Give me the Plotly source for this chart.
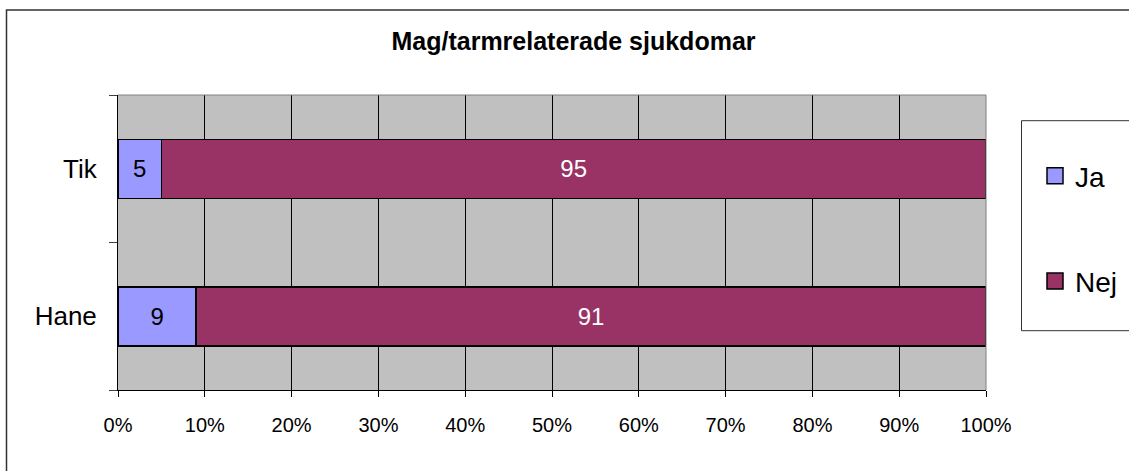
import plotly.graph_objects as go

categories = ["Hane", "Tik"]
ja_values = [9, 5]
nej_values = [91, 95]
series_names = ["Ja", "Nej"]
x_ticks = list(range(0, 101, 10))
x_tick_labels = [f"{v}%" for v in x_ticks]

JA_COLOR = "#9999FF"
NEJ_COLOR = "#993366"
FONT = "Arial, 'Liberation Sans', sans-serif"

W, H = 1129, 471
L, R, T, B = 118, 986, 95, 390

def px_x(p):
    return (p - L) / (R - L)

def px_y(p):
    return (B - p) / (B - T)

fig = go.Figure()
fig.add_trace(go.Bar(
    y=categories, x=ja_values, name=series_names[0], orientation="h",
    marker=dict(color=JA_COLOR, line=dict(color="black", width=1.5)),
    text=[str(v) for v in ja_values], textposition="inside",
    insidetextanchor="middle", textangle=0,
    textfont=dict(color="black", size=24, family=FONT),
    width=0.4, showlegend=False,
))
fig.add_trace(go.Bar(
    y=categories, x=nej_values, name=series_names[1], orientation="h",
    marker=dict(color=NEJ_COLOR, line=dict(color="black", width=1.5)),
    text=[str(v) for v in nej_values], textposition="inside",
    insidetextanchor="middle", textangle=0,
    textfont=dict(color="white", size=24, family=FONT),
    width=0.4, showlegend=False,
))
# legend entries
for name, col in zip(series_names, [JA_COLOR, NEJ_COLOR]):
    fig.add_trace(go.Scatter(
        x=[None], y=[None], mode="markers", name=name, legendgroup=name,
        marker=dict(symbol="square", size=16, color=col,
                    line=dict(color="black", width=1.5)),
        showlegend=True,
    ))

shapes = [
    # outer chart border
    dict(type="rect", xref="paper", yref="paper",
         x0=px_x(6.5), x1=px_x(1140), y0=px_y(480), y1=px_y(10),
         line=dict(color="#333333", width=1.5)),
    # plot area top and right border
    dict(type="line", xref="paper", yref="paper",
         x0=0, x1=1, y0=1, y1=1, line=dict(color="#808080", width=1)),
    dict(type="line", xref="paper", yref="paper",
         x0=1, x1=1, y0=0, y1=1, line=dict(color="#808080", width=1)),
    # legend box
    dict(type="rect", xref="paper", yref="paper",
         x0=px_x(1021.5), x1=px_x(1140), y0=px_y(330.7), y1=px_y(120.7),
         line=dict(color="#333333", width=1), fillcolor="white", layer="below"),
]

fig.update_layout(
    width=W, height=H,
    margin=dict(l=L, r=W - R, t=T, b=H - B, pad=0, autoexpand=False),
    paper_bgcolor="white",
    plot_bgcolor="#C0C0C0",
    barmode="stack",
    bargap=0.6,
    font=dict(family=FONT, size=20, color="black"),
    title=dict(text="<b>Mag/tarmrelaterade sjukdomar</b>",
               x=573.5 / W, xanchor="center", xref="container",
               y=1 - 41 / H, yanchor="middle", yref="container",
               font=dict(size=25, family=FONT, color="black")),
    xaxis=dict(range=[0, 100], tickvals=x_ticks, ticktext=x_tick_labels,
               showgrid=True, gridcolor="black", gridwidth=1,
               showline=True, linecolor="black", linewidth=1,
               ticks="outside", ticklen=6, tickcolor="black",
               tickfont=dict(size=20), ticklabelstandoff=11,
               zeroline=False, fixedrange=True, automargin=False),
    yaxis=dict(categoryorder="array", categoryarray=categories,
               showgrid=False, showline=True, linecolor="black", linewidth=1,
               ticks="outside", ticklen=8, tickcolor="#404040",
               tickson="boundaries", tickfont=dict(size=26),
               ticklabelstandoff=15, fixedrange=True, automargin=False),
    legend=dict(x=px_x(1035), xanchor="left", y=px_y(151), yanchor="top",
                bgcolor="rgba(0,0,0,0)", borderwidth=0,
                font=dict(size=28, family=FONT),
                traceorder="grouped", tracegroupgap=66),
    shapes=shapes,
    showlegend=True,
)

fig.write_html("out.html", config={"displayModeBar": False},
               post_script="document.body.style.margin='0';")
